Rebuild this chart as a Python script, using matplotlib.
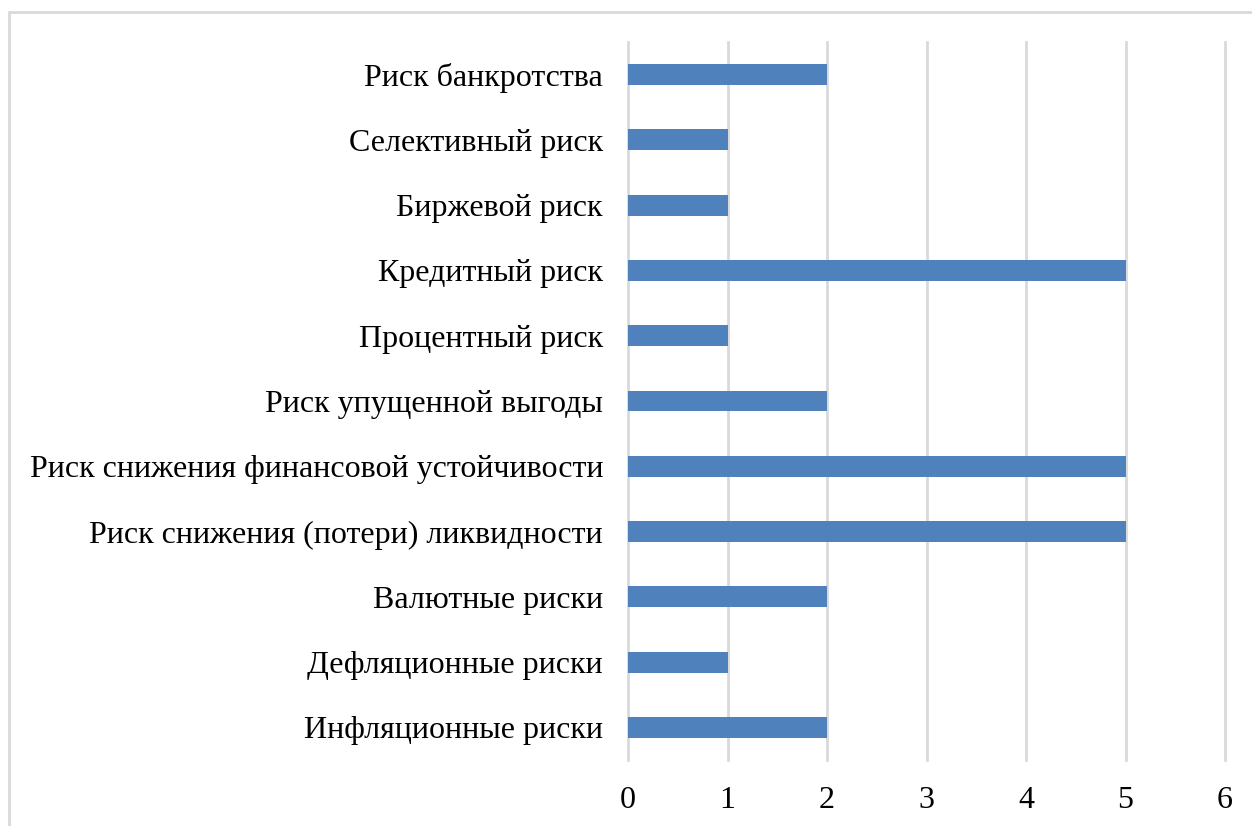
import matplotlib
matplotlib.use("Agg")
import matplotlib.pyplot as plt
from matplotlib.patches import Rectangle

categories = [
    "Инфляционные риски",
    "Дефляционные риски",
    "Валютные риски",
    "Риск снижения (потери) ликвидности",
    "Риск снижения финансовой устойчивости",
    "Риск упущенной выгоды",
    "Процентный риск",
    "Кредитный риск",
    "Биржевой риск",
    "Селективный риск",
    "Риск банкротства",
]
values = [2, 1, 2, 5, 5, 2, 1, 5, 1, 1, 2]
xticks = [0, 1, 2, 3, 4, 5, 6]

plt.rcParams['font.family'] = ['Liberation Serif', 'DejaVu Serif']

W, H = 1252, 826
fig = plt.figure(figsize=(W / 100, H / 100), dpi=100)
ax = fig.add_axes([628 / W, 1 - 760 / H, (1225 - 628) / W, (760 - 42) / H])

ypos = list(range(len(categories)))
ax.barh(ypos, values, height=0.32, color="#4F81BD", zorder=3)
ax.set_ylim(-0.5, len(categories) - 0.5)
ax.set_xlim(0, 6)
ax.set_xticks(xticks)
ax.set_xticklabels([str(t) for t in xticks])
ax.set_yticks(ypos)
ax.set_yticklabels(categories)
ax.tick_params(axis='both', length=0, labelsize=23, colors='black')
ax.tick_params(axis='y', pad=18)
ax.tick_params(axis='x', pad=19)
ax.grid(axis='x', color='#D9D9D9', linewidth=2, zorder=0)
for gl in ax.get_xgridlines():
    gl.set_clip_on(False)
for s in ax.spines.values():
    s.set_visible(False)

fig.patches.append(Rectangle((9 / W, -0.1), 1.2, 1.1 - 12 / H, transform=fig.transFigure,
                             fill=False, edgecolor='#D9D9D9', linewidth=2))

fig.savefig("out.png", dpi=100)
